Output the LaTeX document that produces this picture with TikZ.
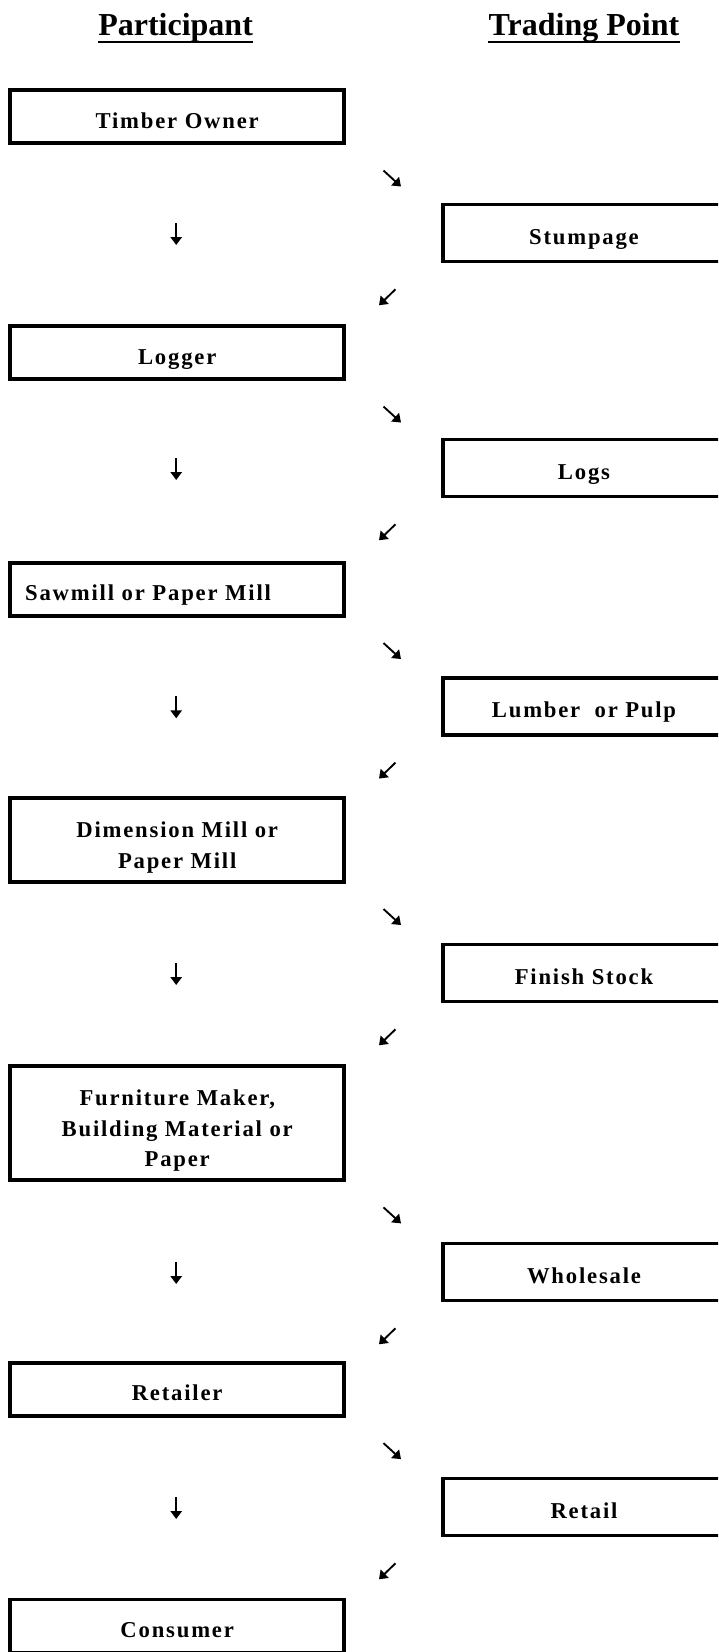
\documentclass[tikz,border=0pt]{standalone}
\usepackage{fontspec}
\setmainfont{Liberation Serif}
\newfontfamily\boxfont[LetterSpace=8]{Liberation Serif}
\usetikzlibrary{positioning}
\usetikzlibrary{calc}
\usetikzlibrary{arrows.meta}
\tikzset{
every box/.style={ % framed box, text spaced out
draw, line width=2.8pt, inner sep=0pt, align=center,
font=\boxfont\bfseries\fontsize{17}{23}\selectfont},
part box/.style={every box, minimum width=250.4pt, minimum height=39.7pt,
text height=17pt, text depth=0pt},
trade box/.style={every box, minimum width=211.7pt, minimum height=42.6pt,
text height=17pt, text depth=0pt},
tall box/.style={every box, minimum width=250.4pt, text depth=0pt},
heading/.style={inner sep=0pt, font=\bfseries\fontsize{24}{28}\selectfont},
flow/.style={ % the small arrows
line width=1.4pt, -{Triangle[width=8.5pt,length=6pt]}}}

\begin{document}
\begin{tikzpicture}[x=0.75pt,y=-0.75pt]
\useasboundingbox (0,0) rectangle (718,1652);
\clip (0,0) rectangle (718,1652);
% column titles
\node[heading, anchor=base] (part) at (175.6,36) {Participant};
\node[heading, anchor=base] (trade) at (584,36) {Trading Point};
\draw[line width=1.7pt] ($(part.base west)+(0,6.2)$) -- ($(part.base east)+(0,6.2)$);
\draw[line width=1.7pt] ($(trade.base west)+(0,6.2)$) -- ($(trade.base east)+(0,6.2)$);
% participants and trading points
\node[part box] (timber) at (177.2,116.7) {Timber Owner};
\node[trade box] (stump) at (584,233) {Stumpage};
\node[part box] (logger) at (177.2,352.7) {Logger};
\node[trade box] (logs) at (584,468) {Logs};
\node[part box, text width=228pt, inner xsep=11.2pt, align=left] (sawmill) at (177.2,589.2) {Sawmill or Paper Mill};
\node[trade box] (lumber) at (584,706.3) {Lumber\hspace{0.3em} or Pulp};
\node[tall box, minimum height=62.5pt, text height=42pt] (dimension) at (177.2,840) {Dimension Mill or\\Paper Mill};
\node[trade box] (finish) at (584,973) {Finish Stock};
\node[tall box, minimum height=85.5pt, text height=65.6pt] (furniture) at (177.2,1123) {Furniture Maker,\\Building Material or\\Paper};
\node[trade box] (wholesale) at (584,1272) {Wholesale};
\node[part box] (retailer) at (177.2,1389.3) {Retailer};
\node[trade box] (retail) at (584,1507) {Retail};
\node[part box] (consumer) at (177.2,1626) {Consumer};
% arrows
\foreach \p/\t in {timber/stump, logger/logs, sawmill/lumber, dimension/finish, furniture/wholesale, retailer/retail}{
\coordinate (\p-a) at ($(\p.south east)+(37.5,25.5)$);
\coordinate (\p-b) at ($(\p-a)+(17.5,16)$);
\coordinate (\t-a) at ($(\t.south west)+(-45.5,26)$);
\coordinate (\t-b) at ($(\t-a)+(-16.5,16)$);
\path (\p.center |- \t.center) ++(-1,-10) coordinate (\p-c);
\coordinate (\p-d) at ($(\p-c)+(0,22)$);
\draw[flow] (\p-a) -- (\p-b);
\draw[flow] (\p-c) -- (\p-d);
\draw[flow] (\t-a) -- (\t-b);
}
\end{tikzpicture}
\end{document}
